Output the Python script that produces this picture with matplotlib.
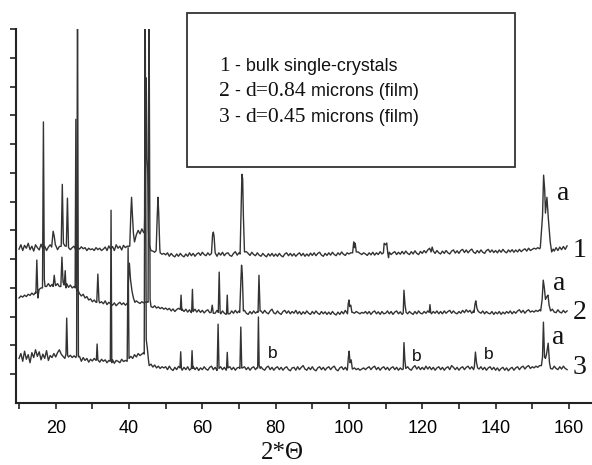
import numpy as np
import matplotlib
matplotlib.use("Agg")
import matplotlib.pyplot as plt
from matplotlib.patches import Rectangle

SANS = "Liberation Sans"
SERIF = "Liberation Serif"
LINE = "#333333"

# sampled angles of the background, 10.0 ... 159.5 deg
GRID = np.arange(10.0, 160.0, 0.5)

# background (noise) of each pattern, 10 values per 5 deg
BASE_1 = [
    5.35, 5.50, 5.30, 5.48, 5.38, 5.55, 5.33, 5.45, 5.28, 5.50,
    5.40, 5.32, 5.52, 5.36, 5.45, 5.30, 5.42, 5.50, 5.35, 5.40,
    5.48, 5.33, 5.44, 5.38, 5.30, 5.46, 5.36, 5.42, 5.33, 5.40,
    5.45, 5.32, 5.40, 5.35, 5.43, 5.36, 5.40, 5.30, 5.38, 5.33,
    5.36, 5.30, 5.40, 5.33, 5.38, 5.30, 5.35, 5.42, 5.30, 5.46,
    5.35, 5.44, 5.30, 5.50, 5.38, 5.45, 5.32, 5.48, 5.40, 5.45,
    5.45, 5.55, 5.62, 5.60, 5.85, 6.00, 5.88, 6.05, 5.92, 6.00,
    5.50, 5.38, 5.30, 5.28, 5.24, 5.25, 5.20, 5.22, 5.17, 5.20,
    5.15, 5.22, 5.10, 5.20, 5.12, 5.08, 5.18, 5.10, 5.20, 5.12,
    5.08, 5.18, 5.10, 5.22, 5.12, 5.20, 5.10, 5.18, 5.22, 5.13,
    5.24, 5.16, 5.12, 5.22, 5.14, 5.24, 5.13, 5.20, 5.10, 5.22,
    5.14, 5.24, 5.12, 5.20, 5.22, 5.13, 5.10, 5.20, 5.26, 5.14,
    5.22, 5.14, 5.24, 5.16, 5.26, 5.20, 5.13, 5.24, 5.16, 5.12,
    5.22, 5.14, 5.10, 5.20, 5.13, 5.08, 5.19, 5.11, 5.20, 5.10,
    5.18, 5.10, 5.20, 5.12, 5.08, 5.18, 5.22, 5.12, 5.20, 5.11,
    5.19, 5.10, 5.17, 5.22, 5.12, 5.20, 5.10, 5.18, 5.11, 5.21,
    5.13, 5.22, 5.12, 5.20, 5.24, 5.14, 5.10, 5.20, 5.13, 5.22,
    5.14, 5.24, 5.16, 5.12, 5.22, 5.15, 5.25, 5.17, 5.13, 5.22,
    5.18, 5.22, 5.17, 5.24, 5.20, 5.25, 5.20, 5.16, 5.22, 5.18,
    5.13, 5.22, 5.15, 5.24, 5.14, 5.22, 5.16, 5.26, 5.18, 5.28,
    5.20, 5.14, 5.24, 5.16, 5.22, 5.26, 5.16, 5.24, 5.17, 5.27,
    5.18, 5.28, 5.20, 5.16, 5.26, 5.18, 5.29, 5.20, 5.16, 5.27,
    5.20, 5.30, 5.22, 5.32, 5.38, 5.30, 5.23, 5.20, 5.30, 5.22,
    5.18, 5.28, 5.20, 5.30, 5.22, 5.18, 5.28, 5.32, 5.21, 5.29,
    5.20, 5.30, 5.34, 5.23, 5.32, 5.22, 5.30, 5.35, 5.24, 5.20,
    5.30, 5.22, 5.32, 5.24, 5.20, 5.30, 5.34, 5.24, 5.32, 5.23,
    5.30, 5.22, 5.32, 5.24, 5.34, 5.26, 5.22, 5.32, 5.25, 5.33,
    5.24, 5.32, 5.25, 5.34, 5.26, 5.32, 5.36, 5.28, 5.38, 5.30,
    5.34, 5.38, 5.35, 5.40, 5.36, 5.40, 5.38, 5.42, 5.40, 5.45,
    5.40, 5.33, 5.28, 5.40, 5.30, 5.42, 5.33, 5.44, 5.34, 5.46,
]
BASE_2 = [
    3.65, 3.72, 3.68, 3.75, 3.70, 3.78, 3.74, 3.82, 3.76, 3.85,
    3.90, 3.95, 4.00, 3.96, 4.10, 4.05, 4.15, 4.05, 4.12, 4.02,
    4.08, 4.15, 4.05, 4.12, 4.20, 4.08, 4.15, 4.02, 4.10, 4.00,
    4.05, 3.95, 3.88, 3.80, 3.72, 3.78, 3.65, 3.70, 3.58, 3.62,
    3.52, 3.58, 3.50, 3.55, 3.48, 3.52, 3.45, 3.55, 3.42, 3.50,
    3.45, 3.40, 3.48, 3.38, 3.45, 3.50, 3.42, 3.48, 3.40, 3.46,
    3.50, 3.45, 3.52, 3.48, 3.55, 3.50, 3.46, 3.52, 3.48, 3.50,
    3.52, 3.45, 3.35, 3.32, 3.38, 3.30, 3.34, 3.28, 3.32, 3.26,
    3.30, 3.24, 3.29, 3.20, 3.27, 3.18, 3.25, 3.29, 3.20, 3.26,
    3.18, 3.26, 3.16, 3.24, 3.14, 3.22, 3.26, 3.16, 3.24, 3.15,
    3.22, 3.13, 3.20, 3.24, 3.14, 3.10, 3.20, 3.12, 3.22, 3.14,
    3.10, 3.20, 3.12, 3.08, 3.18, 3.10, 3.20, 3.12, 3.22, 3.13,
    3.20, 3.10, 3.18, 3.22, 3.12, 3.08, 3.18, 3.10, 3.20, 3.12,
    3.18, 3.10, 3.20, 3.12, 3.22, 3.14, 3.10, 3.20, 3.26, 3.13,
    3.10, 3.20, 3.12, 3.08, 3.18, 3.22, 3.12, 3.20, 3.10, 3.18,
    3.12, 3.22, 3.10, 3.18, 3.08, 3.17, 3.10, 3.20, 3.12, 3.08,
    3.18, 3.10, 3.20, 3.12, 3.08, 3.18, 3.10, 3.17, 3.08, 3.16,
    3.08, 3.18, 3.10, 3.06, 3.16, 3.08, 3.18, 3.10, 3.22, 3.12,
    3.18, 3.25, 3.15, 3.12, 3.18, 3.14, 3.10, 3.15, 3.12, 3.18,
    3.10, 3.18, 3.08, 3.16, 3.20, 3.10, 3.17, 3.08, 3.18, 3.10,
    3.12, 3.20, 3.10, 3.18, 3.08, 3.16, 3.20, 3.10, 3.17, 3.08,
    3.12, 3.20, 3.10, 3.18, 3.12, 3.08, 3.18, 3.10, 3.20, 3.12,
    3.10, 3.18, 3.12, 3.20, 3.13, 3.10, 3.18, 3.12, 3.20, 3.10,
    3.18, 3.10, 3.20, 3.12, 3.18, 3.22, 3.12, 3.20, 3.13, 3.10,
    3.18, 3.12, 3.22, 3.14, 3.24, 3.16, 3.22, 3.12, 3.20, 3.14,
    3.24, 3.16, 3.12, 3.20, 3.10, 3.18, 3.12, 3.10, 3.18, 3.08,
    3.16, 3.10, 3.18, 3.08, 3.16, 3.10, 3.18, 3.12, 3.20, 3.10,
    3.18, 3.12, 3.20, 3.24, 3.14, 3.22, 3.12, 3.20, 3.24, 3.16,
    3.20, 3.16, 3.22, 3.18, 3.24, 3.20, 3.22, 3.18, 3.20, 3.16,
    3.22, 3.26, 3.16, 3.14, 3.24, 3.16, 3.13, 3.22, 3.14, 3.20,
]
BASE_3 = [
    1.55, 1.72, 1.45, 1.80, 1.52, 1.68, 1.40, 1.75, 1.58, 1.85,
    1.62, 1.78, 1.50, 1.70, 1.55, 1.82, 1.48, 1.65, 1.58, 1.72,
    1.60, 1.75, 1.85, 1.70, 1.62, 1.55, 1.70, 1.60, 1.66, 1.58,
    1.64, 1.58, 1.50, 1.62, 1.45, 1.58, 1.48, 1.55, 1.42, 1.52,
    1.46, 1.55, 1.48, 1.58, 1.42, 1.52, 1.45, 1.50, 1.40, 1.48,
    1.42, 1.50, 1.38, 1.48, 1.45, 1.40, 1.52, 1.44, 1.48, 1.55,
    1.50, 1.62, 1.55, 1.68, 1.60, 1.72, 1.65, 1.70, 1.75, 1.68,
    1.55, 1.30, 1.35, 1.25, 1.32, 1.22, 1.28, 1.20, 1.26, 1.22,
    1.26, 1.16, 1.28, 1.18, 1.13, 1.24, 1.16, 1.27, 1.18, 1.14,
    1.24, 1.16, 1.26, 1.14, 1.22, 1.27, 1.16, 1.24, 1.13, 1.22,
    1.16, 1.26, 1.18, 1.14, 1.24, 1.28, 1.16, 1.24, 1.13, 1.22,
    1.26, 1.16, 1.24, 1.14, 1.22, 1.26, 1.16, 1.24, 1.14, 1.22,
    1.24, 1.14, 1.22, 1.26, 1.16, 1.24, 1.14, 1.22, 1.26, 1.16,
    1.24, 1.16, 1.26, 1.18, 1.14, 1.24, 1.28, 1.16, 1.24, 1.14,
    1.22, 1.26, 1.16, 1.24, 1.14, 1.22, 1.26, 1.16, 1.12, 1.22,
    1.24, 1.14, 1.26, 1.16, 1.24, 1.30, 1.18, 1.14, 1.24, 1.16,
    1.26, 1.16, 1.12, 1.22, 1.26, 1.16, 1.24, 1.14, 1.22, 1.26,
    1.16, 1.24, 1.28, 1.16, 1.12, 1.22, 1.26, 1.16, 1.24, 1.14,
    1.20, 1.24, 1.18, 1.22, 1.16, 1.20, 1.14, 1.18, 1.22, 1.16,
    1.22, 1.26, 1.16, 1.24, 1.28, 1.16, 1.24, 1.14, 1.22, 1.26,
    1.16, 1.24, 1.14, 1.22, 1.26, 1.16, 1.24, 1.14, 1.22, 1.16,
    1.24, 1.16, 1.26, 1.18, 1.14, 1.24, 1.30, 1.18, 1.26, 1.16,
    1.24, 1.16, 1.28, 1.18, 1.26, 1.16, 1.24, 1.14, 1.22, 1.26,
    1.16, 1.24, 1.14, 1.22, 1.26, 1.16, 1.30, 1.24, 1.16, 1.24,
    1.14, 1.22, 1.26, 1.16, 1.24, 1.28, 1.18, 1.26, 1.16, 1.24,
    1.28, 1.18, 1.26, 1.16, 1.24, 1.14, 1.22, 1.26, 1.16, 1.24,
    1.14, 1.22, 1.12, 1.20, 1.24, 1.14, 1.22, 1.12, 1.20, 1.24,
    1.14, 1.22, 1.26, 1.16, 1.24, 1.28, 1.18, 1.26, 1.30, 1.20,
    1.26, 1.22, 1.28, 1.24, 1.30, 1.26, 1.22, 1.28, 1.24, 1.30,
    1.26, 1.18, 1.28, 1.20, 1.16, 1.26, 1.18, 1.28, 1.20, 1.16,
]

# reflections: (2theta, intensity) points from foot to foot
PEAKS_1 = [
    [(18.9, 5.42), (19.3, 5.97), (19.6, 5.80), (19.9, 5.50)],
    [(21.5, 5.45), (21.8, 7.60), (22.1, 5.55)],
    [(22.9, 5.45), (23.2, 7.12), (23.5, 5.40)],
    [(40.2, 5.45), (40.5, 6.60), (40.7, 7.15), (40.9, 6.60), (41.2, 5.90), (41.4, 5.70)],
    [(44.2, 5.95), (44.5, 8.00), (44.7, 11.30), (44.9, 8.50), (45.1, 8.10), (45.3, 6.00), (45.5, 5.50)],
    [(47.4, 5.30), (47.7, 6.50), (47.9, 7.15), (48.1, 6.60), (48.4, 5.35)],
    [(62.5, 5.20), (62.8, 5.85), (63.0, 5.94), (63.2, 5.80), (63.5, 5.22)],
    [(70.3, 5.18), (70.6, 6.80), (70.8, 7.95), (71.0, 7.80), (71.2, 6.50), (71.5, 5.25)],
    [(101.0, 5.22), (101.3, 5.60), (101.5, 5.40), (101.7, 5.55), (102.0, 5.25)],
    [(109.4, 5.22), (109.6, 5.55), (110.0, 5.50), (110.3, 5.56), (110.6, 5.20), (110.8, 5.05)],
    [(122.4, 5.25), (122.7, 5.42), (123.0, 5.28)],
    [(152.2, 5.40), (152.8, 6.50), (153.1, 7.92), (153.4, 7.40), (153.6, 6.60), (154.0, 7.15),
     (154.4, 6.40), (154.9, 5.60), (155.3, 5.25), (155.7, 5.35)],
]
PEAKS_2 = [
    [(14.6, 3.82), (14.85, 4.97), (15.15, 3.65), (15.4, 3.90)],
    [(16.4, 4.00), (16.65, 9.77), (16.9, 4.30), (17.1, 4.05)],
    [(19.3, 4.05), (19.6, 4.44), (19.9, 4.10)],
    [(21.4, 4.05), (21.7, 5.07), (22.0, 4.20), (22.3, 4.10), (22.6, 4.60), (22.8, 4.00)],
    [(25.3, 4.00), (25.5, 9.86), (25.7, 3.90), (26.0, 3.95)],
    [(31.2, 3.50), (31.5, 4.48), (31.8, 3.55)],
    [(39.6, 3.45), (39.9, 4.40), (40.1, 4.86), (40.4, 4.30), (40.8, 3.90), (41.2, 3.65), (41.6, 3.50)],
    [(45.2, 3.50), (45.45, 14.5), (45.75, 3.60), (46.0, 3.35)],
    [(54.0, 3.25), (54.2, 3.75), (54.4, 3.22)],
    [(57.1, 3.20), (57.3, 3.95), (57.5, 3.18)],
    [(62.4, 3.15), (62.7, 3.40), (63.0, 3.12)],
    [(64.35, 3.15), (64.6, 4.55), (64.85, 3.15)],
    [(66.6, 3.12), (66.8, 3.75), (67.0, 3.10)],
    [(70.2, 3.15), (70.5, 4.20), (70.7, 4.79), (70.9, 4.50), (71.2, 3.20)],
    [(75.2, 3.15), (75.45, 4.44), (75.75, 3.20)],
    [(99.6, 3.10), (99.8, 3.45), (100.0, 3.58), (100.2, 3.35), (100.5, 3.40), (100.8, 3.15)],
    [(114.8, 3.12), (115.0, 3.92), (115.3, 3.40), (115.6, 3.15)],
    [(121.9, 3.15), (122.1, 3.42), (122.3, 3.15)],
    [(134.1, 3.15), (134.4, 3.45), (134.6, 3.55), (134.9, 3.30), (135.2, 3.20)],
    [(152.3, 3.20), (152.7, 3.60), (153.0, 4.27), (153.3, 4.00), (153.6, 3.60), (154.0, 3.70),
     (154.3, 3.75), (154.6, 3.40), (155.0, 3.20)],
]
PEAKS_3 = [
    [(22.8, 1.70), (23.0, 2.95), (23.25, 1.65)],
    [(25.7, 1.65), (25.95, 14.5), (26.2, 1.60)],
    [(31.1, 1.50), (31.3, 2.05), (31.5, 1.50)],
    [(34.9, 1.45), (35.1, 6.70), (35.3, 1.40)],
    [(39.5, 1.45), (39.75, 5.40), (40.0, 1.55)],
    [(44.15, 1.70), (44.4, 14.5), (44.7, 2.20), (45.0, 1.90), (45.3, 1.50)],
    [(53.9, 1.22), (54.1, 1.78), (54.3, 1.20)],
    [(57.0, 1.20), (57.2, 1.82), (57.4, 1.20)],
    [(64.05, 1.20), (64.3, 2.74), (64.55, 1.20)],
    [(66.6, 1.20), (66.8, 1.76), (67.0, 1.22)],
    [(70.25, 1.20), (70.5, 2.64), (70.75, 1.22)],
    [(75.1, 1.22), (75.3, 2.99), (75.5, 1.30), (75.8, 1.20)],
    [(99.6, 1.20), (99.85, 1.60), (100.05, 1.80), (100.3, 1.40), (100.6, 1.50), (100.9, 1.20)],
    [(114.8, 1.18), (115.0, 2.10), (115.25, 1.50), (115.5, 1.20)],
    [(134.2, 1.25), (134.5, 1.77), (134.8, 1.40), (135.1, 1.22)],
    [(152.5, 1.30), (152.8, 1.60), (153.05, 2.81), (153.35, 1.60), (153.6, 1.55), (153.9, 1.70),
     (154.35, 2.08), (154.7, 1.40), (155.0, 1.20)],
]

# curve labels
TRACE_LABELS = ["1", "2", "3"]
TRACE_LABEL_Y = [5.31, 3.13, 1.22]
A_POS = [(158.4, 7.29), (157.4, 4.17), (157.0, 2.29)]
B_POS = [(79.1, 1.73), (118.5, 1.63), (138.0, 1.70)]

LEGEND_LINES = [
    [("1", SERIF), (" - bulk single-crystals", SANS)],
    [("2", SERIF), (" - ", SANS), ("d=0.84", SERIF), (" microns (film)", SANS)],
    [("3", SERIF), (" - ", SANS), ("d=0.45", SERIF), (" microns (film)", SANS)],
]


def build(base, peaks):
    assert len(base) == len(GRID)
    pts = list(zip(GRID.tolist(), base))
    for pk in peaks:
        lo, hi = pk[0][0], pk[-1][0]
        pts = [p for p in pts if not (lo <= p[0] <= hi)]
        pts += pk
    pts.sort()
    xs, ys = zip(*pts)
    return xs, ys


W, H = 592, 465
fig = plt.figure(figsize=(W / 100, H / 100), dpi=100)
ax = fig.add_axes([16 / W, 62 / H, 576 / W, 374 / H])

for base, peaks in [(BASE_1, PEAKS_1), (BASE_2, PEAKS_2), (BASE_3, PEAKS_3)]:
    xs, ys = build(base, peaks)
    ax.plot(xs, ys, color=LINE, lw=1.0)

ax.set_xlim(9.17, 166.3)
ax.set_ylim(0, 13)
for s in ["top", "right"]:
    ax.spines[s].set_visible(False)
for s in ["left", "bottom"]:
    ax.spines[s].set_linewidth(1.5)
    ax.spines[s].set_color("#222222")
ax.set_xticks(range(20, 161, 20))
ax.set_xticks(range(10, 161, 20), minor=True)
ax.set_yticks(range(1, 14))
ax.set_yticklabels([])
ax.tick_params(axis="both", which="both", direction="out", length=4, width=1.2,
               color="#222222")
ax.tick_params(axis="x", pad=8, labelsize=13)
for lb in ax.get_xticklabels():
    lb.set_family(SANS)

for lab, y in zip(TRACE_LABELS, TRACE_LABEL_Y):
    ax.text(163.0, y, lab, family=SERIF, fontsize=20, ha="center", va="center",
            clip_on=False, color="#111111")
for x, y in A_POS:
    ax.text(x, y, "a", family=SERIF, fontsize=20, ha="center", va="center",
            clip_on=False, color="#111111")
for x, y in B_POS:
    ax.text(x, y, "b", family=SANS, fontsize=12.5, ha="center", va="center",
            clip_on=False, color="#111111")

fig.text(282 / W, 6 / H, "2*Θ", family=SERIF, fontsize=18, ha="center",
         va="baseline", color="#111111")

# legend box
fig.patches.append(Rectangle((187 / W, (H - 167) / H), 328 / W, 154 / H,
                             transform=fig.transFigure, facecolor="white",
                             edgecolor="#333333", lw=1.3, zorder=5))
renderer = fig.canvas.get_renderer()
for i, pieces in enumerate(LEGEND_LINES):
    x = 219 / W
    y = (H - 71 - 25.3 * i) / H
    for txt, fam in pieces:
        size = 15.5 if fam == SERIF else 12.9
        t = fig.text(x, y, txt, family=fam, fontsize=size, va="baseline",
                     color="#111111", zorder=6)
        bb = t.get_window_extent(renderer)
        x = bb.x1 / W

fig.savefig("out.png", dpi=100)
